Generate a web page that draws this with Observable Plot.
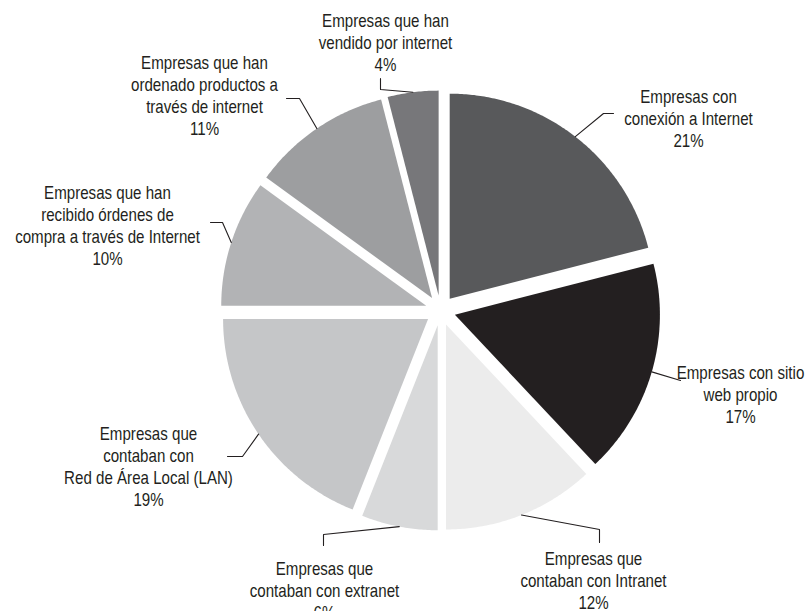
<!DOCTYPE html>
<html><head><meta charset="utf-8">
<script src="https://cdn.jsdelivr.net/npm/d3@7"></script>
<script src="https://cdn.jsdelivr.net/npm/@observablehq/plot@0.6"></script>
<style>body{margin:0;background:#fff}#chart svg{display:block}</style>
</head><body><div id="chart"></div>
<script>
// ---- data ----
const categories = [
  "Empresas con conexión a Internet",
  "Empresas con sitio web propio",
  "Empresas que contaban con Intranet",
  "Empresas que contaban con extranet",
  "Empresas que contaban con Red de Área Local (LAN)",
  "Empresas que han recibido órdenes de compra a través de Internet",
  "Empresas que han ordenado productos a través de internet",
  "Empresas que han vendido por internet"
];
const labelLines = [
  ["Empresas con", "conexión a Internet"],
  ["Empresas con sitio", "web propio"],
  ["Empresas que", "contaban con Intranet"],
  ["Empresas que", "contaban con extranet"],
  ["Empresas que", "contaban con", "Red de Área Local (LAN)"],
  ["Empresas que han", "recibido órdenes de", "compra a través de Internet"],
  ["Empresas que han", "ordenado productos a", "través de internet"],
  ["Empresas que han", "vendido por internet"]
];
const values = [21, 17, 12, 6, 19, 10, 11, 4];

// ---- styles / layout ----
const colors = ["#58595b", "#231f20", "#ececec", "#d8d9da", "#c5c6c8", "#b2b3b5", "#9d9ea0", "#77777a"];
const W = 807, H = 611;
const CX = 440, CY = 310, R = 205, EXPLODE = 15;
// label anchor: [center x, mean baseline y]
const labelPos = [[688, 123.5], [740, 399], [593, 585], [324, 595], [148, 471], [107, 230.5], [204, 100.5], [385, 47]];
// leader elbows after the point on the slice edge
const leaderElbows = [
  [[603, 113], [613, 113]],
  [[680, 380]],
  [[599, 529], [599, 542]],
  [[323, 534], [323, 545]],
  [[242, 456], [227, 456]],
  [[222, 222], [210, 222]],
  [[299, 98], [286, 98]],
  [[380, 89], [380, 78]]
];

function hasFont(name) {
  const c = document.createElement("canvas").getContext("2d");
  const s = "abcdefghijklmnopqrstuvwxyz ABCDEFG";
  c.font = "20px monospace"; const a = c.measureText(s).width;
  c.font = `20px "${name}", monospace`; const b = c.measureText(s).width;
  return a !== b;
}
let fontFamily, fontSize, squeeze;
if (hasFont("Liberation Sans Narrow")) { fontFamily = '"Liberation Sans Narrow", sans-serif'; fontSize = 18.2; squeeze = 1; }
else { fontFamily = '"Liberation Sans", Arial, sans-serif'; fontSize = 18; squeeze = 0.84; }
const lineH = 22;

// ---- geometry from values ----
const total = d3.sum(values);
const slices = [];
const leaders = [];
const labels = [];
let acc = 0;
values.forEach((v, i) => {
  const a0 = acc / total * 2 * Math.PI;
  acc += v;
  const a1 = acc / total * 2 * Math.PI;
  const mid = (a0 + a1) / 2;
  const ax = CX + EXPLODE * Math.sin(mid), ay = CY - EXPLODE * Math.cos(mid);
  const key = categories[i];
  slices.push({key, x: ax, y: ay});
  const n = Math.max(4, Math.ceil((a1 - a0) / 0.01));
  for (let k = 0; k <= n; k++) {
    const t = a0 + (a1 - a0) * k / n;
    slices.push({key, x: ax + R * Math.sin(t), y: ay - R * Math.cos(t)});
  }
  slices.push({key, x: ax, y: ay});
  leaders.push({key, x: ax + R * Math.sin(mid), y: ay - R * Math.cos(mid)});
  leaderElbows[i].forEach(([x, y]) => leaders.push({key, x, y}));
  const lines = [...labelLines[i], `${v}%`];
  labels.push({key, text: lines.join("\n"), x: labelPos[i][0], y: labelPos[i][1] - 0.32 * fontSize});
});

const chart = Plot.plot({
  width: W, height: H,
  margin: 0,
  x: {domain: [0, W], range: [0, W], axis: null},
  y: {domain: [0, H], range: [0, H], axis: null},
  color: {domain: categories, range: colors},
  style: {background: "#fff", fontFamily},
  marks: [
    Plot.line(slices, {x: "x", y: "y", z: "key", fill: "key", stroke: "none", curve: "linear"}),
    Plot.line(leaders, {x: "x", y: "y", z: "key", stroke: "#231f20", strokeWidth: 1.1}),
    Plot.text(labels, {x: "x", y: "y", text: "text", fontSize, lineHeight: lineH / fontSize, fill: "#231f20", fontFamily})
  ]
});
// condensed look: squeeze each label horizontally around its anchor
if (squeeze !== 1) {
  d3.select(chart).selectAll("text").each(function () {
    const t = this.getAttribute("transform");
    if (t) this.setAttribute("transform", `${t} scale(${squeeze},1)`);
  });
}
document.getElementById("chart").appendChild(chart);
</script>
</body></html>
